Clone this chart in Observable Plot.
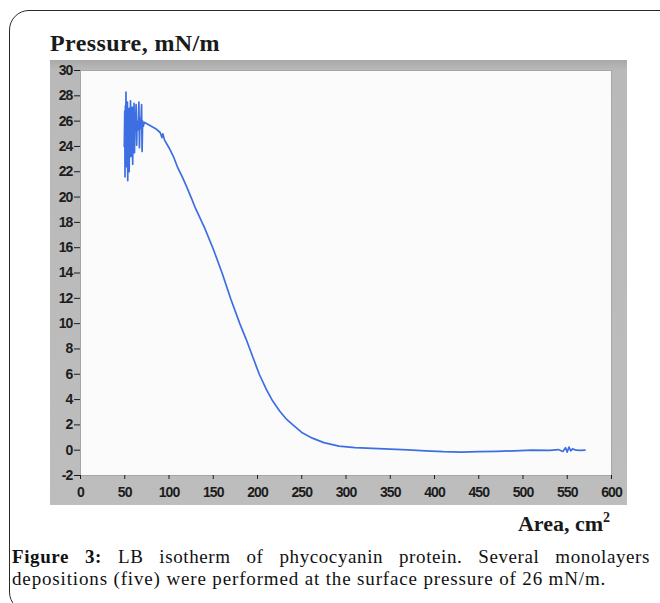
<!DOCTYPE html>
<html>
<head>
<meta charset="utf-8">
<script src="https://cdn.jsdelivr.net/npm/d3@7"></script>
<script src="https://cdn.jsdelivr.net/npm/@observablehq/plot@0.6"></script>
<style>
  html, body { margin: 0; padding: 0; background: #ffffff; width: 660px; height: 603px; overflow: hidden; }
  #border { position: absolute; left: 9px; top: 10px; width: 720px; height: 600px; border: 1.5px solid #2a2a2a; border-radius: 20px; }
  #ytitle { position: absolute; left: 50px; top: 30px; font: bold 24px "Liberation Serif", "Times New Roman", serif; color: #1a1a1a; line-height: 26px; white-space: nowrap; letter-spacing: 0.4px; }
  #xtitle { position: absolute; left: 440px; width: 170px; top: 511px; text-align: right; font: bold 22px "Liberation Serif", "Times New Roman", serif; color: #1a1a1a; line-height: 26px; white-space: nowrap; }
  #xtitle sup { font-size: 14px; vertical-align: 9px; line-height: 0; }
  #frame { position: absolute; left: 50px; top: 60px; width: 577px; height: 445px;
           background: linear-gradient(to bottom, #a9a9a9 0px, #b9b9b9 10px, #bdbdbd 100%); }
  .cap { position: absolute; left: 12px; width: 638px; font: 19px "Liberation Serif", "Times New Roman", serif; line-height: 22px; color: #111; white-space: nowrap; }
  #cap1 { top: 546px; text-align: justify; text-align-last: justify; letter-spacing: 0.6px; }
  #cap2 { top: 568px; letter-spacing: 0.85px; }
</style>
</head>
<body>
<div id="border"></div>
<div id="ytitle">Pressure, mN/m</div>
<div id="frame"></div>
<div id="xtitle">Area, cm<sup>2</sup></div>
<div class="cap" id="cap1"><b>Figure 3:</b> LB isotherm of phycocyanin protein. Several monolayers</div>
<div class="cap" id="cap2">depositions (five) were performed at the surface pressure of 26 mN/m.</div>
<script>
const area = [
  49.5, 50, 50.3, 50.7, 51, 51.4, 51.8, 52.2, 52.6, 53, 53.4, 53.8, 54.2, 54.6, 55, 55.5,
  56, 56.5, 57, 57.5, 58, 58.5, 59, 59.5, 60, 60.5, 61, 61.5, 62, 62.8, 63.5, 64,
  65, 66, 66.6, 67.2, 68, 69, 69.6, 70.2, 71, 72, 75, 80, 85, 90, 92, 93, 95,
  100, 105, 110, 115, 120, 126, 130, 140, 150, 160, 170, 180, 187, 195, 202, 210,
  217, 225, 232, 240, 250, 262, 275, 292, 310, 330, 350, 370, 390, 410, 430, 450,
  470, 490, 510, 530, 540, 545, 548, 550, 552, 554, 556, 560, 565, 570
];
const pressure = [
  24.0, 26.8, 21.6, 27.2, 24.5, 28.3, 22.4, 26.9, 24.2, 27.5, 21.3, 26.4, 23.8, 27.0, 22.0, 26.2,
  24.6, 27.6, 23.2, 26.5, 24.8, 27.1, 22.6, 26.0, 25.0, 27.4, 23.5, 26.3, 25.2, 27.3, 24.1, 26.0,
  25.3, 27.5, 23.9, 26.2, 25.4, 27.3, 23.6, 26.0, 25.6, 25.9, 25.8, 25.6, 25.4, 25.1, 24.7, 25.0, 24.5,
  23.9, 23.2, 22.3, 21.6, 20.8, 19.8, 19.1, 17.6, 15.9, 14.0, 11.9, 10.0, 8.8, 7.3, 6.0, 4.8,
  3.9, 3.1, 2.5, 2.0, 1.4, 0.95, 0.6, 0.32, 0.2, 0.15, 0.08, 0.02, -0.05, -0.12, -0.15, -0.12,
  -0.1, -0.05, 0.0, -0.02, 0.05, -0.1, 0.2, -0.15, 0.25, -0.05, 0.1, 0.0, -0.02, 0.0
];
const xTicks = [0, 50, 100, 150, 200, 250, 300, 350, 400, 450, 500, 550, 600];
const yTicks = [-2, 0, 2, 4, 6, 8, 10, 12, 14, 16, 18, 20, 22, 24, 26, 28, 30];

const data = area.map((a, i) => ({area: a, pressure: pressure[i]}));

const chart = Plot.plot({
  width: 577,
  height: 445,
  marginLeft: 30,
  marginRight: 16,
  marginTop: 10,
  marginBottom: 30,
  style: {background: "transparent", fontFamily: "'Liberation Sans', Arial, sans-serif", fontSize: "14px", fontWeight: "bold", letterSpacing: "-0.9px", color: "#1c1c1c", overflow: "visible"},
  x: {domain: [0, 600]},
  y: {domain: [-2, 30]},
  marks: [
    Plot.frame({fill: "#fbfbfb", stroke: "#9a9a9a", strokeWidth: 0.8}),
    Plot.line(data, {x: "area", y: "pressure", stroke: "#3d6fe3", strokeWidth: 1.7}),
    Plot.axisX({ticks: xTicks, tickSize: 4, tickPadding: 8, label: null, tickFormat: d => String(d)}),
    Plot.axisY({ticks: yTicks, tickSize: 6, tickPadding: 2, label: null, tickFormat: d => String(d)})
  ]
});
chart.style.position = "absolute";
chart.style.left = "50px";
chart.style.top = "60px";
document.body.appendChild(chart);
</script>
</body>
</html>
